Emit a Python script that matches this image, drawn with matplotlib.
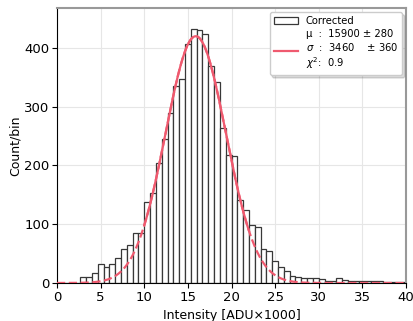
import numpy as np
import matplotlib
matplotlib.use("Agg")
import matplotlib.pyplot as plt

# histogram: 60 bins from 0 to 40 (x1000 ADU)
bin_edges = np.linspace(0, 40, 61)
counts = [0, 0, 0, 0, 10, 10, 17, 33, 28, 33,
          42, 58, 65, 85, 85, 138, 153, 204, 245, 290,
          336, 348, 407, 432, 430, 424, 369, 342, 264, 218,
          216, 142, 125, 98, 95, 58, 55, 37, 27, 20,
          12, 10, 9, 9, 8, 6, 3, 4, 8, 5,
          4, 3, 4, 4, 4, 4, 2, 2, 1, 2]

# gaussian fit result
fit_amp = 420
fit_mu = 15.9
fit_sigma = 3.46
fit_range = (10, 22)
fit_label = ("μ  :  15900 ± 280\n"
             "$\\sigma$  :  3460    ± 360\n"
             "$\\chi^2$:  0.9")

fit_color = '#ef5a6f'


def gauss(x, a, mu, sig):
    return a * np.exp(-0.5 * ((x - mu) / sig) ** 2)


fig = plt.figure(figsize=(4.14, 3.21), dpi=100)
ax = fig.add_axes([0.1377, 0.1184, 0.843, 0.8566])

bars = ax.bar(bin_edges[:-1], counts, width=np.diff(bin_edges), align='edge',
              facecolor='white', edgecolor='#383838', linewidth=0.9,
              label='Corrected', zorder=2)

# fitted part solid, extrapolation dashed
x_all = np.linspace(0, 40, 400)
ax.plot(x_all, gauss(x_all, fit_amp, fit_mu, fit_sigma), '--',
        color=fit_color, lw=1.6, zorder=3)
x_fit = np.linspace(fit_range[0], fit_range[1], 200)
line, = ax.plot(x_fit, gauss(x_fit, fit_amp, fit_mu, fit_sigma), '-',
                color=fit_color, lw=1.6, zorder=4)

ax.set_xlim(0, 40)
ax.set_ylim(0, 468)
ax.set_xticks(np.arange(0, 41, 5))
ax.set_yticks(np.arange(0, 401, 100))
ax.tick_params(labelsize=9.5, pad=2)
ax.grid(True, color='#e6e6e6', lw=0.8, zorder=0)
ax.set_axisbelow(True)

for side in ['top', 'right']:
    ax.spines[side].set_color('#999999')
    ax.spines[side].set_linewidth(1.5)

ax.set_xlabel('Intensity [ADU×1000]', fontsize=9, labelpad=4)
ax.set_ylabel('Count/bin', fontsize=9, labelpad=2)

ax.legend([bars, line], ['Corrected', fit_label], loc='upper right',
          fontsize=7.2, shadow={'alpha': 0.2}, framealpha=1,
          handlelength=2.4, borderaxespad=0.4, labelspacing=0.3)

fig.savefig('out.png', dpi=100)
